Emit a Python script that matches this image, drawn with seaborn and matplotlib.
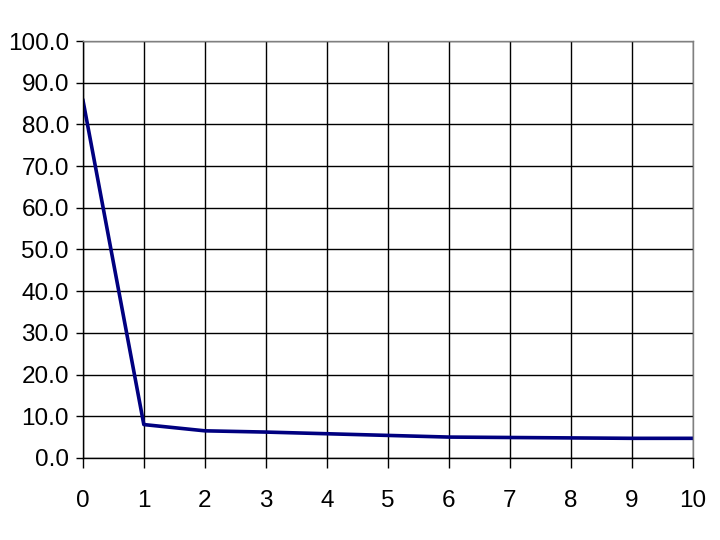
import seaborn as sns
import pandas as pd
from matplotlib import pyplot as plt

# values
x_vals = [0, 1, 2, 3, 4, 5, 6, 7, 8, 9, 10]
y_vals = [86.0, 8.0, 6.5, 6.2, 5.8, 5.4, 5.0, 4.9, 4.8, 4.7, 4.7]
y_ticks = [0, 10, 20, 30, 40, 50, 60, 70, 80, 90, 100]

data = pd.DataFrame({'x': x_vals, 'y': y_vals})

sns.set_style("white")
plt.rcParams['font.family'] = ['Liberation Sans', 'DejaVu Sans']

fig = plt.figure(figsize=(7.2, 5.4), dpi=100)
ax = fig.add_axes([0.115, 0.152, 0.8475, 0.772])

sns.lineplot(data=data, x='x', y='y', ax=ax, color='#000080', linewidth=2.6)

ax.set_xlim(0, 10)
ax.set_ylim(0, 100)
ax.set_xticks(x_vals)
ax.set_yticks(y_ticks)
ax.set_yticklabels([f'{v:.1f}' for v in y_ticks])
ax.set_xlabel('')
ax.set_ylabel('')

ax.grid(True, color='black', linewidth=1.0)
ax.set_axisbelow(True)
ax.tick_params(axis='both', labelsize=17.5, width=1.0, color='black',
               labelcolor='black', direction='out', left=True, bottom=True)
ax.tick_params(axis='x', length=7, pad=16)
ax.tick_params(axis='y', length=5, pad=5)

for side in ['left', 'bottom']:
    ax.spines[side].set_color('black')
    ax.spines[side].set_linewidth(1.0)
for side in ['top', 'right']:
    ax.spines[side].set_color('#808080')
    ax.spines[side].set_linewidth(1.0)

fig.savefig('out.png', dpi=100)
